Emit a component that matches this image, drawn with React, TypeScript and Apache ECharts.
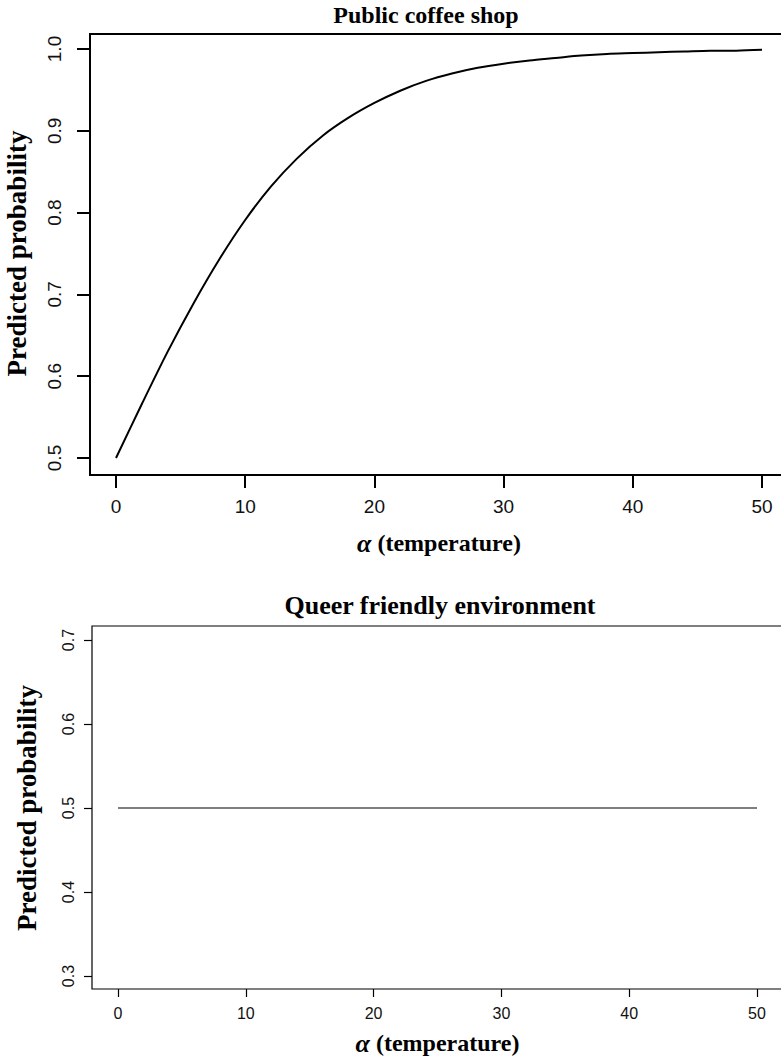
import React, { useEffect, useRef } from "react";
import * as echarts from "echarts";

// alpha (temperature) sample points and the predicted probability
const coffeeAlpha = [0, 2, 4, 6, 8, 10, 12, 14, 16, 18, 20, 22, 24, 26, 28, 30, 32, 34, 36, 38, 40, 42, 44, 46, 48, 50];
const coffeeProb = [0.5, 0.566, 0.63, 0.689, 0.743, 0.791, 0.832, 0.866, 0.894, 0.916, 0.934, 0.949, 0.961, 0.97, 0.977, 0.982, 0.986, 0.989, 0.992, 0.994, 0.995, 0.996, 0.997, 0.998, 0.998, 0.999];

const queerAlpha = [0, 50];
const queerProb = [0.5, 0.5];

const xTicks = [0, 10, 20, 30, 40, 50];
const coffeeYRange = [0.5, 1.0];
const queerYRange = [0.3, 0.7];

const titles = ["Public coffee shop", "Queer friendly environment"];
const xName = "{a|\u03b1} (temperature)";
const yName = "Predicted probability";

const SERIF = "'Liberation Serif', 'Times New Roman', serif";
const SANS = "'Liberation Sans', Arial, sans-serif";

export default function App() {
  const ref = useRef<HTMLDivElement>(null);
  useEffect(() => {
    if (!ref.current) return;
    const chart = echarts.init(ref.current, null, { renderer: "svg" });

    const frameAxis = (gi: number) => ({ type: "value", gridIndex: gi, show: false, min: 0, max: 1 });

    const nameStyle = (size: number) => ({
      fontFamily: SERIF,
      fontWeight: "bold",
      fontSize: size,
      color: "#000",
      rich: {
        a: { fontFamily: SERIF, fontWeight: "bold", fontStyle: "italic", fontSize: size + 2, color: "#000" },
      },
    });

    const xAxisData = (gi: number, offset: number, tickLen: number, lw: number, fs: number, margin: number, gap: number, color: string, nameSize: number) => ({
      type: "value",
      gridIndex: gi,
      min: xTicks[0],
      max: xTicks[xTicks.length - 1],
      interval: 10,
      offset,
      axisLine: { show: false, onZero: false, lineStyle: { color, width: lw } },
      axisTick: { show: true, inside: false, length: tickLen, lineStyle: { color, width: lw } },
      axisLabel: { show: true, margin, fontFamily: SANS, fontSize: fs, color: "#111" },
      splitLine: { show: false },
      name: xName,
      nameLocation: "middle",
      nameGap: gap,
      nameTextStyle: nameStyle(nameSize),
    });

    const yAxisData = (gi: number, range: number[], offset: number, tickLen: number, lw: number, fs: number, margin: number, gap: number, color: string, nameSize: number) => ({
      type: "value",
      gridIndex: gi,
      min: range[0],
      max: range[1],
      interval: 0.1,
      offset,
      axisLine: { show: false, onZero: false, lineStyle: { color, width: lw } },
      axisTick: { show: true, inside: false, length: tickLen, lineStyle: { color, width: lw } },
      axisLabel: {
        show: true,
        rotate: 90,
        margin,
        fontFamily: SANS,
        fontSize: fs,
        color: "#111",
        formatter: (v: number) => v.toFixed(1),
      },
      splitLine: { show: false },
      name: yName,
      nameLocation: "middle",
      nameRotate: 90,
      nameGap: gap,
      nameTextStyle: nameStyle(nameSize),
    });

    const gridBase = { containLabel: false, outerBoundsMode: "none" };

    chart.setOption({
      animation: false,
      backgroundColor: "#fff",
      title: [
        {
          text: titles[0],
          left: 426,
          top: 3,
          padding: 0,
          textAlign: "center",
          textStyle: { fontFamily: SERIF, fontWeight: "bold", fontSize: 24, color: "#000" },
        },
        {
          text: titles[1],
          left: 440,
          top: 592,
          padding: 0,
          textAlign: "center",
          textStyle: { fontFamily: SERIF, fontWeight: "bold", fontSize: 26, color: "#000" },
        },
      ],
      grid: [
        { ...gridBase, left: 90, top: 34, width: 698, height: 441, show: true, borderColor: "#000", borderWidth: 2, backgroundColor: "transparent" },
        { ...gridBase, left: 116, top: 49, width: 646, height: 409, show: false },
        { ...gridBase, left: 92, top: 626, width: 691, height: 363, show: true, borderColor: "#000", borderWidth: 1.2, backgroundColor: "transparent" },
        { ...gridBase, left: 118, top: 640, width: 639, height: 336, show: false },
      ],
      xAxis: [
        frameAxis(0),
        xAxisData(1, 17, 13, 2, 19, 22, 55, "#000", 24),
        frameAxis(2),
        xAxisData(3, 13, 8, 1.2, 16, 16, 41, "#000", 24),
      ],
      yAxis: [
        frameAxis(0),
        yAxisData(1, coffeeYRange, 26, 13, 2, 19, 26, 60, "#000", 27),
        frameAxis(2),
        yAxisData(3, queerYRange, 26, 8, 1.2, 16, 16, 52, "#000", 27),
      ],
      series: [
        {
          type: "line",
          xAxisIndex: 1,
          yAxisIndex: 1,
          data: coffeeAlpha.map((a, i) => [a, coffeeProb[i]]),
          showSymbol: false,
          smooth: 0.3,
          lineStyle: { color: "#000", width: 2 },
          silent: true,
        },
        {
          type: "line",
          xAxisIndex: 3,
          yAxisIndex: 3,
          data: queerAlpha.map((a, i) => [a, queerProb[i]]),
          showSymbol: false,
          lineStyle: { color: "#000", width: 1.2 },
          silent: true,
        },
      ],
    });
    return () => chart.dispose();
  }, []);
  return <div ref={ref} style={{ position: "absolute", left: 0, top: 0, width: 781, height: 1058 }} />;
}
